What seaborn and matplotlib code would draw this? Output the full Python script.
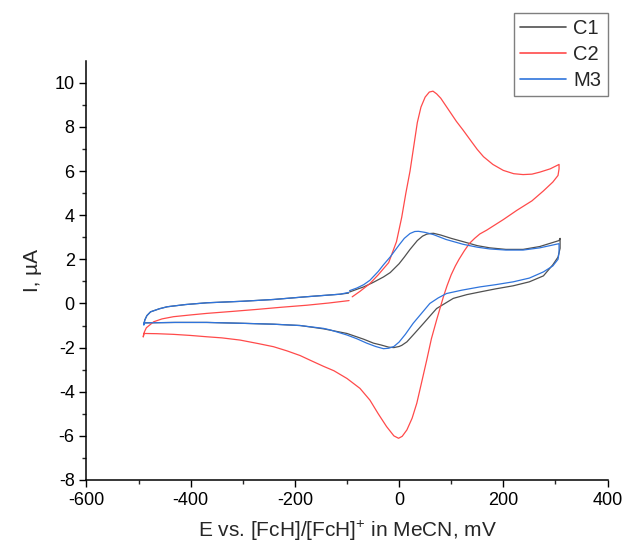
import numpy as np
import pandas as pd
import matplotlib
matplotlib.use("Agg")
import matplotlib.pyplot as plt
import seaborn as sns

# Cyclic voltammograms: potential (mV vs FcH/FcH+) and current (uA), in sweep order
c1_E = [-95, -80, -68, -50, -30, -17, 0, 10, 21, 35, 45, 53, 60, 66, 80, 100, 123, 150, 174, 205,
        238, 270, 307, 309,
        309, 305, 295, 277, 250, 219, 185, 155, 130, 104, 88, 72, 60, 47, 30, 15, 5, 0, -10, -20,
        -35, -49, -68, -100, -145, -190, -241, -300, -369, -430, -489,
        -490, -488, -484, -477, -460, -445, -410, -369, -300, -241, -180, -113, -97]
c1_I = [0.52, 0.65, 0.75, 0.95, 1.2, 1.4, 1.8, 2.1, 2.45, 2.85, 3.05, 3.14, 3.17, 3.18, 3.1,
        2.95, 2.8, 2.62, 2.52, 2.45, 2.45, 2.58, 2.85, 2.95,
        2.5, 2.1, 1.75, 1.25, 0.98, 0.8, 0.66, 0.52, 0.4, 0.23, 0.0, -0.23, -0.55, -0.9, -1.35,
        -1.74, -1.9, -1.95, -2.0, -1.98, -1.88, -1.8, -1.62, -1.36, -1.15, -1.0, -0.94, -0.9,
        -0.86, -0.86, -0.88,
        -0.95, -0.75, -0.55, -0.38, -0.24, -0.15, -0.05, 0.03, 0.1, 0.18, 0.3, 0.42, 0.47]

c2_E = [-90, -75, -56, -40, -20, -5, 5, 13, 21, 28, 35, 42, 50, 58, 65, 72, 80, 90, 100, 110,
        123, 140, 150, 162, 180, 200, 220, 238, 255, 270, 290, 307,
        307, 305, 295, 277, 255, 226, 200, 180, 168, 155, 145, 135, 125, 115, 108, 100, 92, 85,
        72, 62, 53, 43, 34, 25, 15, 6, -1, -10, -24, -40, -56, -75, -100, -125, -145, -170, -190,
        -215, -241, -270, -305, -340, -369, -400, -433, -465, -490,
        -491, -489, -485, -471, -455, -433, -400, -369, -320, -273, -225, -177, -135, -96]
c2_I = [0.3, 0.55, 0.9, 1.3, 1.85, 2.8, 3.9, 5.0, 6.0, 7.1, 8.2, 8.9, 9.35, 9.58, 9.62, 9.5,
        9.3, 8.95, 8.6, 8.25, 7.85, 7.3, 6.98, 6.65, 6.3, 6.03, 5.88, 5.84, 5.86, 5.95, 6.1, 6.3,
        6.1, 5.8, 5.5, 5.1, 4.65, 4.22, 3.8, 3.5, 3.32, 3.15, 2.95, 2.72, 2.38, 2.0, 1.7, 1.3,
        0.8, 0.3, -0.75, -1.6, -2.57, -3.6, -4.52, -5.2, -5.73, -6.02, -6.11, -6.0, -5.58, -5.0,
        -4.38, -3.85, -3.4, -3.05, -2.85, -2.58, -2.36, -2.15, -1.96, -1.82, -1.66, -1.56, -1.51,
        -1.45, -1.4, -1.37, -1.36,
        -1.52, -1.3, -1.1, -0.83, -0.7, -0.6, -0.52, -0.45, -0.36, -0.27, -0.17, -0.08, 0.02, 0.13]

m3_E = [-95, -81, -68, -56, -40, -30, -17, 0, 10, 21, 30, 37, 50, 66, 90, 123, 150, 174, 205,
        238, 270, 307,
        307, 305, 295, 277, 250, 219, 185, 155, 120, 91, 75, 59, 43, 27, 12, 0, -10, -20, -30,
        -45, -62, -81, -100, -132, -145, -190, -241, -300, -369, -430, -489,
        -490, -488, -484, -477, -460, -445, -410, -369, -300, -241, -180, -113, -97]
m3_I = [0.58, 0.7, 0.85, 1.05, 1.45, 1.75, 2.11, 2.65, 2.95, 3.17, 3.26, 3.27, 3.22, 3.12, 2.9,
        2.68, 2.55, 2.47, 2.42, 2.42, 2.52, 2.71,
        2.3, 2.0, 1.7, 1.43, 1.15, 0.98, 0.85, 0.75, 0.6, 0.45, 0.25, 0.0, -0.45, -0.9, -1.4,
        -1.75, -1.95, -2.03, -2.05, -1.95, -1.8, -1.6, -1.43, -1.2, -1.13, -1.0, -0.94, -0.9,
        -0.86, -0.86, -0.88,
        -0.98, -0.75, -0.55, -0.38, -0.24, -0.15, -0.05, 0.03, 0.1, 0.18, 0.3, 0.42, 0.5]

labels = ["C1", "C2", "M3"]
colors = {"C1": "#505050", "C2": "#ff4a4a", "M3": "#2f74dc"}

frames = []
for name, e, i in zip(labels, [c1_E, c2_E, m3_E], [c1_I, c2_I, m3_I]):
    frames.append(pd.DataFrame({"E": e, "I": i, "compound": name, "step": np.arange(len(e))}))
df = pd.concat(frames, ignore_index=True)

sns.set_theme(style="ticks")
plt.rcParams["font.family"] = ["Liberation Sans", "DejaVu Sans"]
plt.rcParams["mathtext.fontset"] = "custom"
plt.rcParams["mathtext.rm"] = "Liberation Sans"
plt.rcParams["axes.unicode_minus"] = False

fig = plt.figure(figsize=(6.22, 5.47), dpi=100)
ax = fig.add_axes([0.139, 0.1225, 0.8377, 0.7665])

sns.lineplot(data=df, x="E", y="I", hue="compound", palette=colors, sort=False,
             estimator=None, units="compound", lw=0.9, ax=ax)

ax.set_xlim(-600, 400)
ax.set_ylim(-8, 11)
ax.set_xticks(np.arange(-600, 401, 200))
ax.set_xticks(np.arange(-500, 400, 200), minor=True)
ax.set_yticks(np.arange(-8, 11, 2))
ax.set_yticks(np.arange(-7, 11, 2), minor=True)
ax.tick_params(which="major", direction="out", length=5, width=1, labelsize=13, colors="black")
ax.tick_params(which="minor", direction="out", length=3, width=1)
ax.spines["top"].set_visible(False)
ax.spines["right"].set_visible(False)
for s in ["left", "bottom"]:
    ax.spines[s].set_linewidth(1.1)
    ax.spines[s].set_color("black")

ax.set_xlabel(r"E vs. [FcH]/[FcH]$^{+}$ in MeCN, mV", fontsize=15, labelpad=7)
ax.set_ylabel("I, µA", fontsize=15, labelpad=9)

leg = ax.legend(loc="upper right", bbox_to_anchor=(1.0, 1.1137), fontsize=14.5,
                frameon=True, fancybox=False, framealpha=1, edgecolor="#7f7f7f",
                handlelength=2.3, handletextpad=0.35, labelspacing=0.35, borderpad=0.3,
                borderaxespad=0, title=None)
leg.get_frame().set_linewidth(1.0)
for line in leg.get_lines():
    line.set_linewidth(1.2)

fig.savefig("out.png", dpi=100)
